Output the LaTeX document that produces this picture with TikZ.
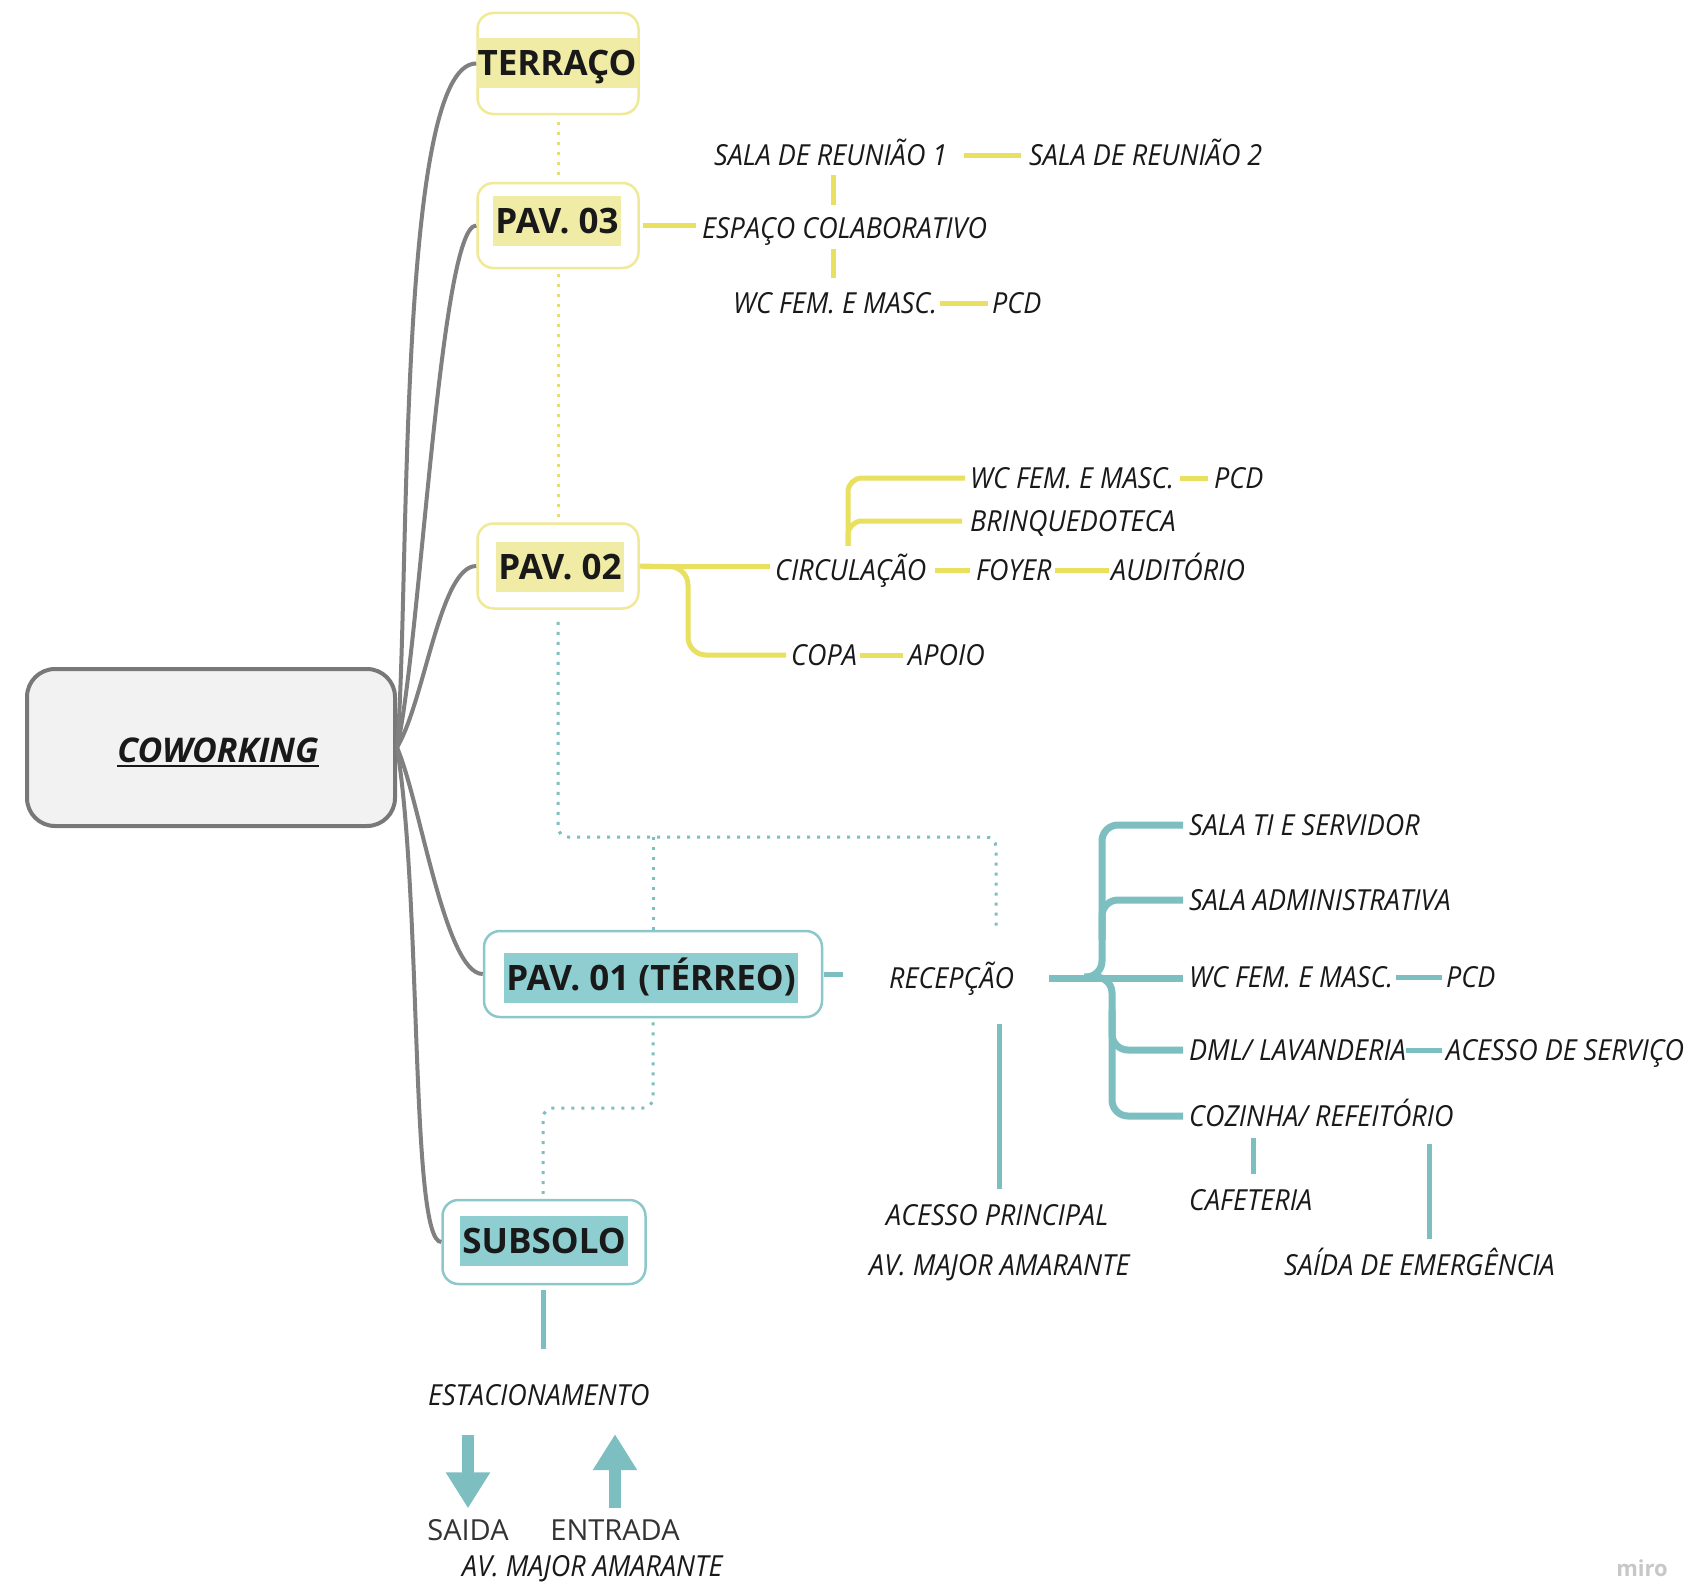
\documentclass[tikz,border=0pt]{standalone}
\usepackage{fontspec}
\setmainfont{Open Sans}
\newfontfamily\hand[FakeStretch=0.93]{Open Sans}
\usetikzlibrary{arrows.meta,calc}
\definecolor{txt}{RGB}{25,25,25}
\definecolor{yline}{RGB}{233,224,96}
\definecolor{yborder}{RGB}{240,233,150}
\definecolor{yhigh}{RGB}{241,236,165}
\definecolor{bline}{RGB}{125,190,193}
\definecolor{bborder}{RGB}{140,200,203}
\definecolor{bhigh}{RGB}{142,206,209}
\definecolor{gline}{RGB}{128,128,128}
\definecolor{rootfill}{RGB}{242,242,242}
\definecolor{rootborder}{RGB}{120,120,120}
\begin{document}
\begin{tikzpicture}[x=1pt,y=-1pt,
  every node/.style={text=txt},
  hand/.style={font=\hand\itshape\fontsize{29}{31}\selectfont, inner xsep=0pt, inner ysep=3pt, text height=22pt, text depth=2pt, anchor=west},
  plain/.style={font=\fontsize{29}{32}\selectfont, inner xsep=0pt, inner ysep=3pt, text height=21pt, text depth=0pt, text=black!80},
  ybox/.style={draw=yborder, line width=2.5pt, rounded corners=16pt, fill=white},
  bbox/.style={draw=bborder, line width=2.5pt, rounded corners=16pt, fill=white},
  flab/.style={font=\bfseries\fontsize{35}{40}\selectfont, inner xsep=2pt, inner ysep=0pt, minimum height=50pt, text height=25pt, text depth=0pt},
  yl/.style={draw=yline, line width=5pt},
  bl/.style={draw=bline, line width=5pt},
  brace/.style={draw=bline, line width=7pt, rounded corners=16pt},
  ydot/.style={draw=yline, line width=3pt, dash pattern=on 3pt off 7pt},
  bdot/.style={draw=bline, line width=3pt, dash pattern=on 3pt off 7pt, rounded corners=10pt},
  gcurve/.style={draw=gline, line width=4pt},
  bigarr/.style={draw=bline, line width=12pt, -{Triangle[width=42pt,length=36pt]}}
]
\fill[white] (0,0) rectangle (1703,1587);
\useasboundingbox (0,0) rectangle (1703,1587);

% coordinates used by connectors
\coordinate (vx3) at (833,0);
\coordinate (cv) at (848,0);
\coordinate (cb) at (688,567);
\coordinate (dh) at (0,837);
\coordinate (dl) at (0,1108);
\coordinate (dEnd) at (996,932);
\coordinate (bt) at (1102,0);
\coordinate (bb) at (1112,0);
\coordinate (bjl) at (1084,0);
\coordinate (bm1) at (0,940);
\coordinate (bm2) at (0,1010);
\coordinate (cx1) at (1253,0);
\coordinate (cx2) at (1429,0);
\coordinate (ax) at (999,0);
\coordinate (sx) at (543,0);

% root
\node[draw=rootborder, fill=rootfill, line width=4pt, rounded corners=28pt, minimum width=368pt, minimum height=157pt] (root) at (211,747.5) {};
\node[font=\bfseries\itshape\fontsize{34}{37}\selectfont, inner xsep=0pt, inner ysep=4pt, text height=24pt, text depth=0pt] (rootL) at (218,750) {COWORKING};
\draw[line width=2.5pt, draw=txt] (rootL.south west) -- (rootL.south east);

% floor boxes
\node[ybox, minimum width=161pt, minimum height=101pt] (terr) at (558,63.5) {};
\node[ybox, minimum width=161pt, minimum height=85pt] (pav3) at (558,225.5) {};
\node[ybox, minimum width=161pt, minimum height=85pt] (pav2) at (558,566) {};
\node[bbox, minimum width=338pt, minimum height=86pt] (pav1) at (653,974) {};
\node[bbox, minimum width=203pt, minimum height=84pt] (sub) at (544,1242) {};

% gray curves
\draw[gcurve] (root.east) .. controls (410,600) and (396,63) .. (terr.west);
\draw[gcurve] (root.east) .. controls (420,650) and (440,225) .. (pav3.west);
\draw[gcurve] (root.east) .. controls (425,700) and (440,566) .. (pav2.west);
\draw[gcurve] (root.east) .. controls (420,800) and (445,974) .. (pav1.west);
\draw[gcurve] (root.east) .. controls (422,900) and (410,1242) .. (sub.west);

\node[flab, fill=yhigh, inner xsep=1pt] (terrL) at (557,63) {TERRAÇO};
\node[flab, fill=yhigh] (pav3L) at (557,221) {PAV. 03};
\node[flab, fill=yhigh] (pav2L) at (560,567) {PAV. 02};
\node[flab, fill=bhigh] (pav1L) at (651,978) {PAV. 01 (TÉRREO)};
\node[flab, fill=bhigh] (subL) at (544,1241) {SUBSOLO};

% dotted floor links
\draw[ydot, shorten <=7pt, shorten >=7pt] (terr.south) -- (pav3.north);
\draw[ydot, shorten <=5pt, shorten >=4pt] (pav3.south) -- (pav2.north);

% PAV 03 group
\node[hand] (r1) at (714,155) {SALA DE REUNIÃO 1};
\node[hand] (r2) at (1029,155) {SALA DE REUNIÃO 2};
\node[hand] (esp) at (702,228) {ESPAÇO COLABORATIVO};
\node[hand] (wc3) at (733,303) {WC FEM. E MASC.};
\node[hand] (pcd3) at (992,303) {PCD};
\draw[yl, shorten <=3pt, shorten >=6pt] (pav3.east) -- (esp.west |- pav3.east);
\draw[yl, shorten <=17pt, shorten >=8pt] (r1.east) -- (r2.west);
\draw[yl, shorten <=5pt, shorten >=8pt] (r1.south -| vx3) -- (esp.north -| vx3);
\draw[yl, shorten <=6pt, shorten >=10pt] (esp.south -| vx3) -- (wc3.north -| vx3);
\draw[yl, shorten <=3pt, shorten >=4pt] (wc3.east) -- (pcd3.west);

% PAV 02 group
\node[hand] (wc2) at (970,478) {WC FEM. E MASC.};
\node[hand] (pcd2) at (1214,478) {PCD};
\node[hand] (brinq) at (970,521) {BRINQUEDOTECA};
\node[hand] (circ) at (775,570) {CIRCULAÇÃO};
\node[hand] (foyer) at (976,570) {FOYER};
\node[hand] (aud) at (1111,570) {AUDITÓRIO};
\node[hand] (copa) at (791,655) {COPA};
\node[hand] (apoio) at (908,655) {APOIO};
\draw[yl, shorten <=3pt, shorten >=5pt] (pav2.east) -- (circ.west |- pav2.east);
\draw[yl, rounded corners=18pt, shorten >=5pt] (pav2.east) -- (cb) -- (cb |- copa.west) -- (copa.west);
\draw[yl, shorten <=8pt, shorten >=6pt] (circ.east) -- (foyer.west);
\draw[yl, shorten <=3pt, shorten >=2pt] (foyer.east) -- (aud.west);
\draw[yl, rounded corners=14pt, shorten <=9pt, shorten >=5pt] (circ.north -| cv) -- (cv |- wc2.west) -- (wc2.west);
\draw[yl, rounded corners=14pt, shorten <=9pt, shorten >=8pt] (circ.north -| cv) -- (cv |- brinq.west) -- (brinq.west);
\draw[yl, shorten <=6pt, shorten >=6pt] (wc2.east) -- (pcd2.west);
\draw[yl, shorten <=3pt, shorten >=5pt] (copa.east) -- (apoio.west);

% blue dotted links
\draw[bdot, shorten <=12pt] (pav2.south) -- (pav2.south |- dh) -- (dEnd |- dh) -- (dEnd);
\draw[bdot] (pav1.north) -- (pav1.north |- dh);
\draw[bdot, shorten <=4pt, shorten >=5pt] (pav1.south) -- (pav1.south |- dl) -- (sx |- dl) -- (sub.north -| sx);

% PAV 01 group
\node[hand] (recep) at (889,978) {RECEPÇÃO};
\node[hand] (salati) at (1189,825) {SALA TI E SERVIDOR};
\node[hand] (admin) at (1189,900) {SALA ADMINISTRATIVA};
\node[hand] (wcb) at (1189,977) {WC FEM. E MASC.};
\node[hand] (pcdb) at (1446,977) {PCD};
\node[hand] (dml) at (1189,1050) {DML/ LAVANDERIA};
\node[hand] (aserv) at (1446,1050) {ACESSO DE SERVIÇO};
\node[hand] (coz) at (1189,1116) {COZINHA/ REFEITÓRIO};
\node[hand] (cafe) at (1189,1200) {CAFETERIA};
\node[hand] (semerg) at (1284,1265) {SAÍDA DE EMERGÊNCIA};
\node[hand] (aprinc) at (886,1215) {ACESSO PRINCIPAL};
\node[hand] (avm1) at (869,1265) {AV. MAJOR AMARANTE};

\draw[bl, shorten <=1pt, shorten >=46pt] (pav1.east) -- (recep.west |- pav1.east);
\draw[brace, shorten <=35pt, shorten >=6pt] (recep.east) -- (wcb.west |- recep.east);
\draw[brace, shorten <=6pt] (salati.west) -- (salati.west -| bt) -- (bt |- wcb.west) -- (bjl |- wcb.west);
\draw[brace, shorten <=6pt] (admin.west) -- (admin.west -| bt) -- (bt |- bm1);
\draw[brace, shorten >=6pt] (bjl |- wcb.west) -- (bb |- wcb.west) -- (bb |- coz.west) -- (coz.west);
\draw[brace, shorten >=6pt] (bb |- bm2) -- (bb |- dml.west) -- (dml.west);
\draw[bl, shorten <=3pt, shorten >=4pt] (wcb.east) -- (pcdb.west);
\draw[bl, shorten <=0pt, shorten >=4pt] (dml.east) -- (aserv.west);
\draw[bl, shorten <=7pt, shorten >=11pt] (coz.south -| cx1) -- (cafe.north -| cx1);
\draw[bl, shorten <=13pt, shorten >=11pt] (coz.south -| cx2) -- (semerg.north -| cx2);
\draw[bl, shorten <=31pt, shorten >=11pt] (recep.south -| ax) -- (aprinc.north -| ax);

% SUBSOLO group
\node[hand] (estac) at (428,1395) {ESTACIONAMENTO};
\node[plain] (saida) at (468,1530) {SAIDA};
\node[plain] (entr) at (615,1530) {ENTRADA};
\node[hand, inner ysep=0pt] (avm2) at (462,1566) {AV. MAJOR AMARANTE};
\draw[bl, shorten <=5pt, shorten >=31pt] (sub.south -| sx) -- (estac.north -| sx);
\draw[bigarr, shorten <=25pt, shorten >=8pt] (estac.south -| saida.north) -- (saida.north);
\draw[bigarr, shorten <=8pt, shorten >=24pt] (entr.north) -- (estac.south -| entr.north);

% watermark
\node[font=\bfseries\fontsize{22}{24}\selectfont, text=black!22] (miro) at (1642,1568) {miro};
\end{tikzpicture}
\end{document}
